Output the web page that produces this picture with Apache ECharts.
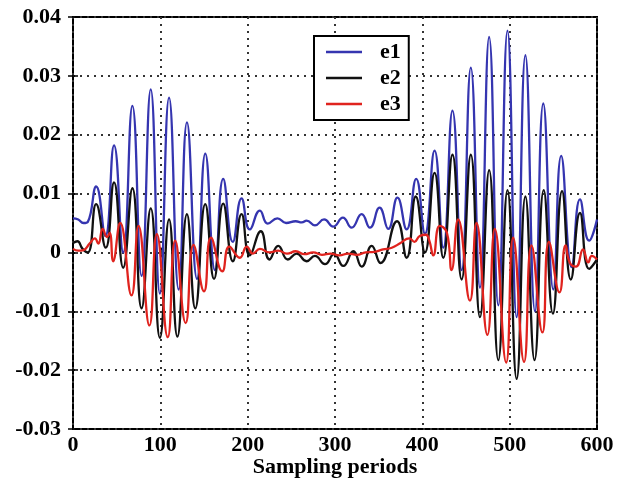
<!DOCTYPE html>
<html><head><meta charset="utf-8">
<script src="https://cdn.jsdelivr.net/npm/echarts@6/dist/echarts.min.js"></script>
<style>html,body{margin:0;padding:0;background:#fff}#c{width:624px;height:482px}</style>
</head><body><div id="c"></div>
<script>
const xTicks = ['0','100','200','300','400','500','600'];
const yTicks = ['-0.03','-0.02','-0.01','0','0.01','0.02','0.03','0.04'];
const seriesNames = ['e1','e2','e3'];
const xTitle = 'Sampling periods';

const e1 = [[0,0.0058],[6,0.0056],[12,0.0050],[17,0.0052],[26.5,0.0112],[37,0.0028],[47,0.0182],[57.5,0.0000],[68,0.0249],[78.5,-0.0040],[89,0.0277],[99.5,-0.0070],[110,0.0263],[121,-0.0063],[130.5,0.0221],[142,-0.0045],[151.5,0.0168],[162.5,-0.0030],[172,0.0125],[183,0.0018],[193,0.0092],[202.5,0.0039],[214,0.0071],[223,0.0049],[234,0.0058],[244,0.0050],[255,0.0053],[262,0.0051],[267.5,0.0054],[277,0.0046],[287.5,0.0056],[298,0.0044],[309,0.0059],[319,0.0042],[330.5,0.0065],[340,0.0042],[351,0.0076],[361,0.0040],[371.5,0.0093],[382,0.0039],[393,0.0125],[403,0.0032],[414,0.0173],[424,0.0008],[434.5,0.0241],[445,-0.0030],[455.5,0.0314],[466,-0.0060],[476.5,0.0366],[487,-0.0090],[497.5,0.0377],[508,-0.0110],[518,0.0335],[529,-0.0100],[538.5,0.0253],[550,-0.0063],[559,0.0164],[571,-0.0025],[580.5,0.0090],[591,0.0020],[600,0.0056]];

const e2 = [[0,0.0016],[5,0.0019],[11,0.0006],[17,0.0000],[26.5,0.0082],[37.5,0.0008],[47,0.0119],[57.5,-0.0026],[68,0.0109],[78.5,-0.0095],[89,0.0075],[99.5,-0.0145],[110,0.0056],[119.5,-0.0143],[130.5,0.0065],[140,-0.0095],[151.5,0.0082],[161.5,-0.0045],[172,0.0083],[183,-0.0015],[193,0.0065],[202.5,-0.0005],[215,0.0036],[225,-0.0012],[235,0.0011],[246,-0.0012],[256,-0.0002],[267.5,-0.0015],[277,-0.0006],[288.5,-0.0020],[299,-0.0003],[309.5,-0.0023],[321,0.0002],[330.5,-0.0024],[342,0.0011],[352,-0.0018],[371,0.0053],[382,-0.0009],[392.5,0.0095],[403,0.0000],[414,0.0135],[424,-0.0009],[434.5,0.0166],[445,-0.0046],[455.5,0.0166],[466,-0.0110],[476.5,0.0140],[487,-0.0183],[497.5,0.0106],[508,-0.0215],[518,0.0095],[528.5,-0.0183],[539,0.0106],[549.5,-0.0104],[560,0.0104],[570,-0.0046],[580.5,0.0067],[591,-0.0028],[600,-0.0012]];

const e3 = [[0,0.0006],[6,0.0003],[12,0.0004],[19,0.0015],[25,0.0024],[29,0.0015],[34,0.0040],[39,0.0026],[42,0.0033],[46,-0.0015],[54,0.0050],[67,-0.0073],[75,0.0045],[87.5,-0.0124],[96,0.0031],[108.5,-0.0144],[117,0.0020],[129,-0.0120],[138,0.0013],[150,-0.0066],[158,0.0025],[171,-0.0032],[179,0.0010],[191,-0.0009],[199,0.0010],[206,-0.0002],[214,0.0006],[225,0.0000],[235,0.0003],[245,-0.0002],[255,0.0002],[265,-0.0003],[275,0.0000],[285,-0.0004],[295,-0.0002],[305,-0.0005],[315,-0.0002],[325,-0.0004],[335,0.0000],[345,0.0001],[355,0.0005],[365,0.0008],[375,0.0016],[385,0.0024],[391,0.0018],[397,0.0028],[404,0.0030],[408,0.0020],[412.5,-0.0005],[420,0.0045],[428,0.0034],[433.5,-0.0030],[441,0.0056],[454.5,-0.0082],[462,0.0050],[474.5,-0.0140],[483,0.0040],[496,-0.0187],[504,0.0025],[516.5,-0.0186],[525,0.0012],[537.5,-0.0136],[545,0.0018],[557,-0.0068],[564,0.0012],[569,-0.0018],[576,-0.0024],[584,0.0005],[590,-0.0017],[594,-0.0006],[600,-0.0012]];

const seriesData = [e1, e2, e3];
const colors = ['#3535b0', '#111111', '#e0231e'];
const font = 'Liberation Serif';

const chart = echarts.init(document.getElementById('c'), null, {renderer: 'canvas'});
const grid = {color: '#333', width: 2, type: [2, 5]};
const tick = {show: true, inside: true, length: 5, lineStyle: {color: '#000', width: 1.5}};
const option = {
  animation: false,
  backgroundColor: '#fff',
  grid: {left: 73, right: 27, top: 17, bottom: 53, outerBoundsMode: 'none', containLabel: false, show: true, borderColor: '#000', borderWidth: 2, backgroundColor: 'transparent'},
  xAxis: [{
    type: 'value', min: 0, max: 600, interval: 100, position: 'bottom',
    axisLine: {show: false}, axisTick: tick,
    axisLabel: {formatter: v => xTicks[Math.round(v / 100)], fontFamily: font, fontWeight: 'bold', fontSize: 22, color: '#000', margin: 5},
    splitLine: {show: true, lineStyle: grid},
    name: xTitle, nameLocation: 'middle', nameGap: 27, nameMoveOverlap: false,
    nameTextStyle: {fontFamily: font, fontWeight: 'bold', fontSize: 22, color: '#000'}
  }, {
    type: 'value', min: 0, max: 600, interval: 100, position: 'top',
    axisLine: {show: false}, axisTick: tick, axisLabel: {show: false}, splitLine: {show: false}
  }],
  yAxis: [{
    type: 'value', min: -0.03, max: 0.04, interval: 0.01, position: 'left',
    axisLine: {show: false}, axisTick: tick,
    axisLabel: {formatter: v => yTicks[Math.round((v + 0.03) / 0.01)], fontFamily: font, fontWeight: 'bold', fontSize: 22, color: '#000', margin: 12},
    splitLine: {show: true, lineStyle: grid}
  }, {
    type: 'value', min: -0.03, max: 0.04, interval: 0.01, position: 'right',
    axisLine: {show: false}, axisTick: tick, axisLabel: {show: false}, splitLine: {show: false}
  }],
  legend: {
    orient: 'vertical', left: 314, top: 36, padding: [5, 8, 5, 12], itemGap: 4,
    icon: 'rect', itemWidth: 36, itemHeight: 2.5, backgroundColor: '#fff', borderColor: '#000', borderWidth: 2, borderRadius: 0,
    textStyle: {fontFamily: font, fontWeight: 'bold', fontSize: 22, color: '#000', padding: [0, 0, 0, 13]},
    data: seriesNames
  },
  series: seriesNames.map((n, i) => ({
    name: n, type: 'line', data: seriesData[i], smooth: 0.5, symbol: 'none',
    color: colors[i], lineStyle: {color: colors[i], width: 2.3}, xAxisIndex: 0, yAxisIndex: 0, z: 3 + i
  }))
};
chart.setOption(option);
</script></body></html>
